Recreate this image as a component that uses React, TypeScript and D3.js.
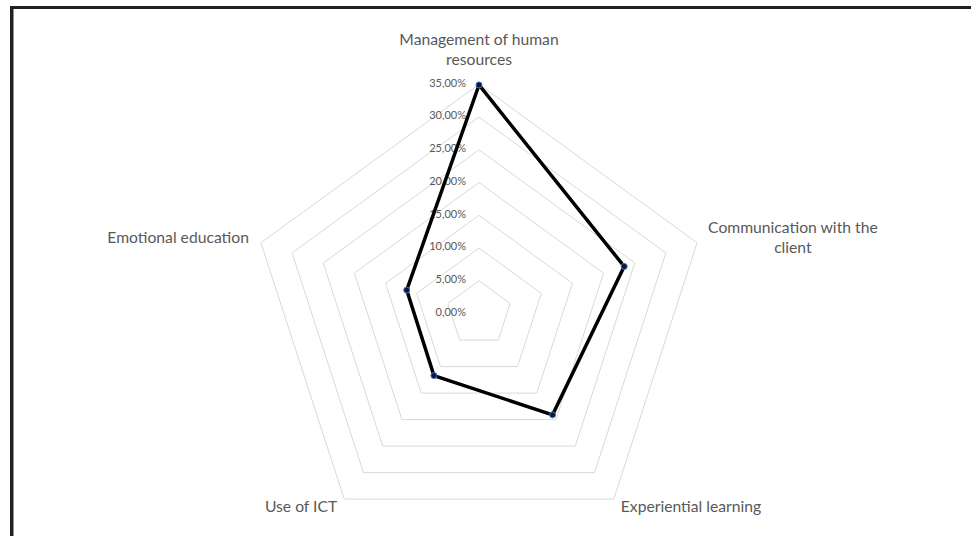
import React, { useEffect, useRef } from "react";
import * as d3 from "d3";

// Radar chart: share of responses per training area
const categories: string[] = [
  "Management of human resources",
  "Communication with the client",
  "Experiential learning",
  "Use of ICT",
  "Emotional education",
];
const categoryLines: string[][] = [
  ["Management of human", "resources"],
  ["Communication with the", "client"],
  ["Experiential learning"],
  ["Use of ICT"],
  ["Emotional education"],
];
const values: number[] = [0.349, 0.233, 0.191, 0.117, 0.116];
const ticks: number[] = [0, 0.05, 0.1, 0.15, 0.2, 0.25, 0.3, 0.35];

const W = 971;
const H = 536;
const FONT = "Lato, 'Open Sans', sans-serif";

const fmt = (v: number) => (v * 100).toFixed(2).replace(".", ",") + "%";

export default function App() {
  const ref = useRef<SVGSVGElement | null>(null);

  useEffect(() => {
    document.body.style.margin = "0";
    const svg = d3.select(ref.current);
    svg.selectAll("*").remove();

    const cx = 479;
    const cy = 313.6;
    const R = 229.3;
    const r = d3.scaleLinear().domain([0, 0.35]).range([0, R]);
    const n = categories.length;
    const angle = d3
      .scaleLinear()
      .domain([0, n])
      .range([0, 2 * Math.PI]);

    const g = svg.append("g").attr("transform", `translate(${cx},${cy})`);

    // frame edges
    svg
      .append("rect")
      .attr("x", 10)
      .attr("y", 6)
      .attr("width", W)
      .attr("height", 3)
      .attr("fill", "#222");
    svg
      .append("rect")
      .attr("x", 10)
      .attr("y", 6)
      .attr("width", 3.5)
      .attr("height", H)
      .attr("fill", "#222");

    // grid pentagons
    const ring = d3
      .lineRadial<number>()
      .angle((_, i) => angle(i))
      .radius((d) => r(d))
      .curve(d3.curveLinearClosed);
    ticks
      .filter((t) => t > 0)
      .forEach((t) => {
        g.append("path")
          .attr("d", ring(categories.map(() => t)) as string)
          .attr("fill", "none")
          .attr("stroke", "#d9d9d9")
          .attr("stroke-width", 1);
      });

    // tick labels
    g.selectAll("text.tick")
      .data(ticks)
      .join("text")
      .attr("class", "tick")
      .attr("x", -13)
      .attr("y", (d) => -r(d) - 1.5)
      .attr("dy", "0.35em")
      .attr("text-anchor", "end")
      .attr("font-family", FONT)
      .attr("font-size", 11)
      .attr("fill", "#595959")
      .text((d) => fmt(d));

    // data polygon
    g.append("path")
      .attr("d", ring(values) as string)
      .attr("fill", "none")
      .attr("stroke", "#000")
      .attr("stroke-width", 3.5)
      .attr("stroke-linejoin", "miter");

    g.selectAll("circle.pt")
      .data(values)
      .join("circle")
      .attr("class", "pt")
      .attr("cx", (d, i) => r(d) * Math.sin(angle(i)))
      .attr("cy", (d, i) => -r(d) * Math.cos(angle(i)))
      .attr("r", 3)
      .attr("fill", "#0d1633")
      .attr("stroke", "#4472c4")
      .attr("stroke-width", 1);

    // category labels around the outer ring
    const fs = 15.7;
    const lh = 20;
    const cap = fs * 0.72;
    categoryLines.forEach((lines, i) => {
      const a = angle(i);
      const s = Math.sin(a);
      const c = Math.cos(a);
      const vx = R * s;
      const vy = -R * c;
      const t = g
        .append("text")
        .attr("font-family", FONT)
        .attr("font-size", fs)
        .attr("fill", "#595959")
        .attr("text-anchor", "middle");
      const spans = lines.map((l) => t.append("tspan").text(l));
      const widths = spans.map((sp) => (sp.node() as SVGTSpanElement).getComputedTextLength());
      const bw = Math.max(...widths);
      let mid: number;
      let firstBase: number;
      if (Math.abs(s) < 0.1) {
        mid = vx;
        firstBase = vy - 19 - (lines.length - 1) * lh;
      } else if (c > -0.5) {
        mid = s > 0 ? vx + 11 + bw / 2 : vx - 12 - bw / 2;
        firstBase = vy - 5 + cap / 2 - ((lines.length - 1) * lh) / 2;
      } else {
        mid = s > 0 ? vx + 7 + bw / 2 : vx - 7 - bw / 2;
        firstBase = vy + 13;
      }
      spans.forEach((sp, k) => sp.attr("x", mid).attr("y", firstBase + k * lh));
    });
  }, []);

  return (
    <svg
      ref={ref}
      width={W}
      height={H}
      style={{ display: "block", background: "#fff" }}
    />
  );
}
